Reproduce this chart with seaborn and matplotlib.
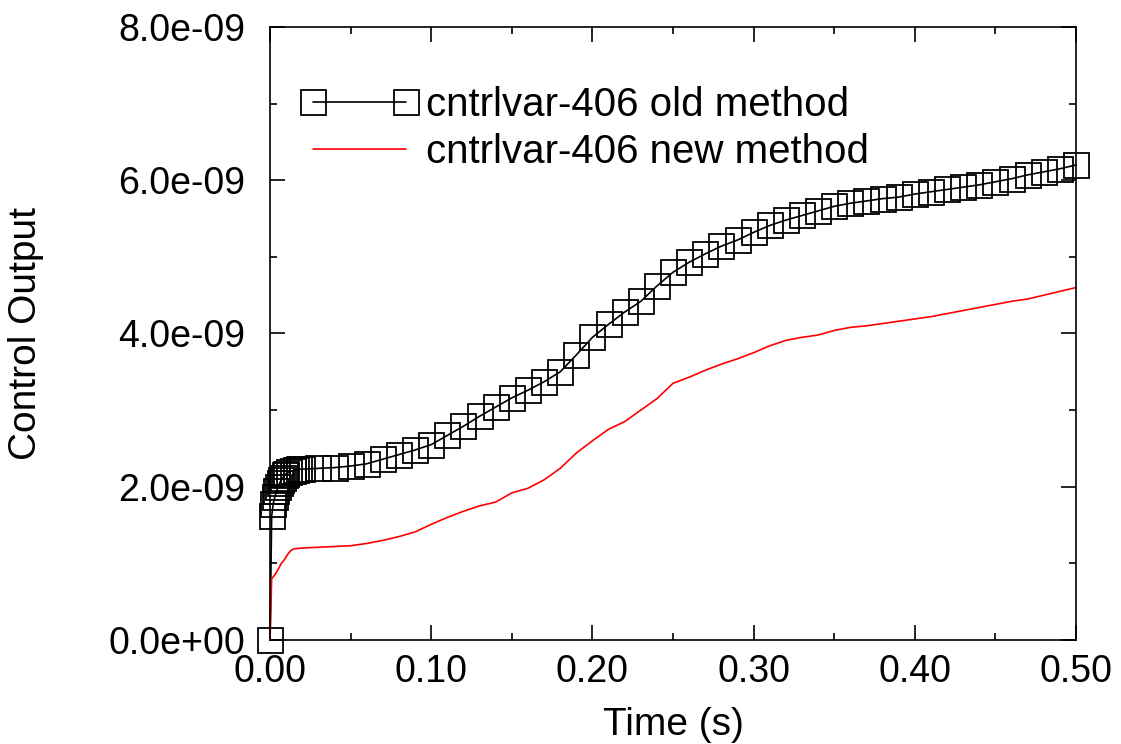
import numpy as np
import pandas as pd
import matplotlib
matplotlib.use("Agg")
import matplotlib.pyplot as plt
import seaborn as sns
from matplotlib.ticker import MultipleLocator, FormatStrFormatter, FuncFormatter
from matplotlib.legend_handler import HandlerLine2D

# old method (markers), values in units of 1e-9
old_t = [0.0, 0.001, 0.002, 0.003, 0.004, 0.005, 0.006, 0.007, 0.008, 0.009,
         0.010, 0.012, 0.014, 0.016, 0.018,
         0.02, 0.03, 0.04, 0.05, 0.06, 0.07, 0.08, 0.09, 0.10,
         0.11, 0.12, 0.13, 0.14, 0.15, 0.16, 0.17, 0.18, 0.19, 0.20,
         0.21, 0.22, 0.23, 0.24, 0.25, 0.26, 0.27, 0.28, 0.29, 0.30,
         0.31, 0.32, 0.33, 0.34, 0.35, 0.36, 0.37, 0.38, 0.39, 0.40,
         0.41, 0.42, 0.43, 0.44, 0.45, 0.46, 0.47, 0.48, 0.49, 0.50]
old_y = [0.0, 1.62, 1.78, 1.87, 1.94, 2.00, 2.05, 2.09, 2.12, 2.15,
         2.17, 2.19, 2.21, 2.22, 2.23,
         2.23, 2.24, 2.25, 2.27, 2.30, 2.36, 2.42, 2.48, 2.55,
         2.67, 2.79, 2.92, 3.04, 3.16, 3.26, 3.37, 3.50, 3.72, 3.95,
         4.12, 4.28, 4.42, 4.62, 4.80, 4.93, 5.04, 5.14, 5.22, 5.32,
         5.41, 5.48, 5.54, 5.60, 5.66, 5.70, 5.73, 5.76, 5.78, 5.82,
         5.85, 5.88, 5.91, 5.94, 5.98, 6.02, 6.07, 6.11, 6.15, 6.20]

# new method (red line)
new_t = [0.0, 0.001, 0.003, 0.005, 0.007, 0.009, 0.011, 0.013, 0.015,
         0.02, 0.03, 0.04, 0.05, 0.06, 0.07, 0.08, 0.09, 0.10,
         0.11, 0.12, 0.13, 0.14, 0.15, 0.16, 0.17, 0.18, 0.19, 0.20,
         0.21, 0.22, 0.23, 0.24, 0.25, 0.26, 0.27, 0.28, 0.29, 0.30,
         0.31, 0.32, 0.33, 0.34, 0.35, 0.36, 0.37, 0.38, 0.39, 0.40,
         0.41, 0.42, 0.43, 0.44, 0.45, 0.46, 0.47, 0.48, 0.49, 0.50]
new_y = [0.0, 0.80, 0.85, 0.92, 1.00, 1.05, 1.12, 1.17, 1.19,
         1.20, 1.21, 1.22, 1.23, 1.26, 1.30, 1.35, 1.41, 1.51,
         1.60, 1.68, 1.75, 1.80, 1.92, 1.98, 2.09, 2.24, 2.44, 2.60,
         2.75, 2.85, 3.00, 3.15, 3.35, 3.43, 3.52, 3.60, 3.67, 3.75,
         3.84, 3.91, 3.95, 3.98, 4.04, 4.08, 4.10, 4.13, 4.16, 4.19,
         4.22, 4.26, 4.30, 4.34, 4.38, 4.42, 4.45, 4.50, 4.55, 4.60]

old_df = pd.DataFrame({"t": old_t, "y": np.array(old_y) * 1e-9})
new_df = pd.DataFrame({"t": new_t, "y": np.array(new_y) * 1e-9})

sns.set_style("ticks")
plt.rcParams['font.family'] = ['Liberation Sans', 'DejaVu Sans']
plt.rcParams['text.color'] = 'black'
plt.rcParams['axes.labelcolor'] = 'black'

fig = plt.figure(figsize=(11.21, 7.44), dpi=100)
ax = fig.add_axes([0.2409, 0.1398, 0.7190, 0.8239])

sns.lineplot(data=old_df, x="t", y="y", ax=ax, sort=False, color="black",
             linewidth=1.2, marker="s", markersize=18, markerfacecolor="none",
             markeredgecolor="black", markeredgewidth=1.3, clip_on=False,
             label="cntrlvar-406 old method")
sns.lineplot(data=new_df, x="t", y="y", ax=ax, sort=False, color="red",
             linewidth=1.2, clip_on=False, label="cntrlvar-406 new method")

ax.set_xlim(0, 0.5)
ax.set_ylim(0, 8e-9)
ax.xaxis.set_major_locator(MultipleLocator(0.1))
ax.xaxis.set_minor_locator(MultipleLocator(0.05))
ax.yaxis.set_major_locator(MultipleLocator(2e-9))
ax.yaxis.set_minor_locator(MultipleLocator(1e-9))
ax.xaxis.set_major_formatter(FormatStrFormatter("%.2f"))
ax.yaxis.set_major_formatter(FuncFormatter(lambda v, p: "%.1e" % v))

ax.tick_params(which="both", direction="in", top=True, right=True,
               width=1.2, colors="black")
ax.tick_params(which="major", length=11)
ax.tick_params(which="minor", length=5)
ax.tick_params(axis="y", which="major", labelsize=27, pad=18)
ax.tick_params(axis="x", which="major", labelsize=27, pad=10)

for s in ax.spines.values():
    s.set_linewidth(1.2)
    s.set_color("black")

ax.set_xlabel("Time (s)", fontsize=28, labelpad=12)
ax.set_ylabel("Control Output", fontsize=28)
ax.yaxis.set_label_coords(-0.28, 0.5)

handles, labels = ax.get_legend_handles_labels()
ax.legend(handles, labels, loc="upper left", bbox_to_anchor=(0.0533, 0.904),
          frameon=False, fontsize=29, numpoints=2, handlelength=2.3,
          handletextpad=0.5, labelspacing=0.23, borderpad=0, borderaxespad=0,
          handler_map={h: HandlerLine2D(marker_pad=0, numpoints=2) for h in handles})

fig.savefig("out.png", dpi=100)
